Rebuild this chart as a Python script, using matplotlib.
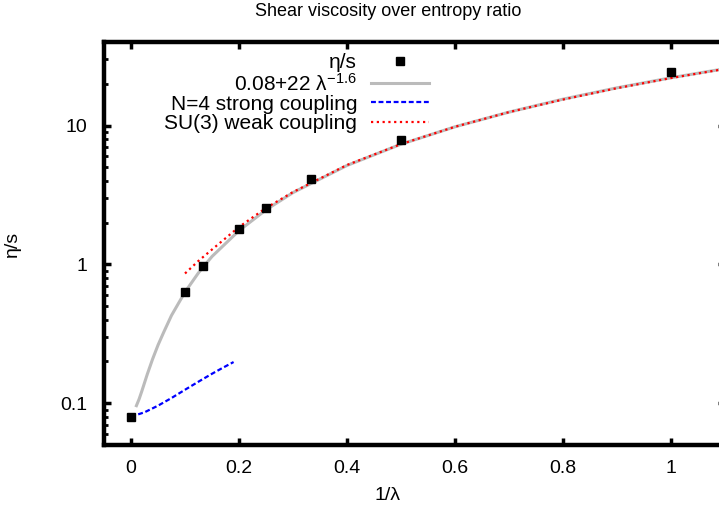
import matplotlib
matplotlib.use("Agg")
import matplotlib.pyplot as plt
from matplotlib.ticker import FixedLocator, LogLocator, NullFormatter, FuncFormatter

plt.rcParams['font.family'] = ['Liberation Sans', 'DejaVu Sans']
plt.rcParams['font.size'] = 14
plt.rcParams['mathtext.fontset'] = 'custom'
plt.rcParams['mathtext.rm'] = 'Liberation Sans'
plt.rcParams['mathtext.default'] = 'regular'

# eta/s data points (x = 1/lambda)
pts_x = [0.0, 0.1, 0.133, 0.2, 0.25, 0.333, 0.5, 1.0]
pts_y = [0.08, 0.63, 0.97, 1.8, 2.55, 4.1, 7.9, 24.5]

# fit curve 0.08 + 22 lambda^-1.6
fit_x = [0.01, 0.015, 0.02, 0.03, 0.04, 0.05, 0.06, 0.075, 0.1, 0.125, 0.15, 0.2,
         0.25, 0.3, 0.4, 0.5, 0.6, 0.7, 0.8, 0.9, 1.0, 1.1]
fit_y = [0.096, 0.107, 0.122, 0.161, 0.208, 0.262, 0.321, 0.429, 0.632, 0.87,
         1.14, 1.75, 2.47, 3.29, 5.16, 7.34, 9.80, 12.5, 15.5, 18.7, 22.1, 25.7]

# N=4 strong coupling
strong_x = [0.0, 0.025, 0.05, 0.075, 0.1, 0.125, 0.15, 0.17, 0.19]
strong_y = [0.080, 0.086, 0.096, 0.109, 0.125, 0.143, 0.163, 0.180, 0.198]

# SU(3) weak coupling
weak_x = [0.1, 0.125, 0.15, 0.2, 0.25, 0.3, 0.4, 0.5, 0.6, 0.7, 0.8, 0.9, 1.0, 1.1]
weak_y = [0.86, 1.06, 1.28, 1.86, 2.55, 3.32, 5.2, 7.35, 9.8, 12.5, 15.4, 18.6, 22.0, 25.6]

x_ticks = [0, 0.2, 0.4, 0.6, 0.8, 1.0]
y_ticks = [0.1, 1, 10]

fig = plt.figure(figsize=(7.19, 5.12), dpi=100)
ax = fig.add_axes([104 / 719, 67 / 512, 621 / 719, 403 / 512])

ax.plot(fit_x, fit_y, color='#bbbbbb', lw=2.2, label='0.08+22 λ$^{-1.6}$', zorder=2)
ax.plot(strong_x, strong_y, color='#0000ff', lw=1.6, ls=(0, (2.2, 1.2)),
        label='N=4 strong coupling', zorder=3)
ax.plot(weak_x, weak_y, color='#ff0000', lw=1.6, ls=(0, (1, 1.6)),
        label='SU(3) weak coupling', zorder=4)
ax.plot(pts_x, pts_y, ls='none', marker='s', ms=5.5, color='black',
        label='η/s', zorder=5)

ax.set_yscale('log')
ax.set_xlim(-0.05, 1.1)
ax.set_ylim(0.05, 40)

ax.xaxis.set_major_locator(FixedLocator(x_ticks))
ax.xaxis.set_major_formatter(FuncFormatter(lambda v, p: '%g' % v))
ax.yaxis.set_major_locator(FixedLocator(y_ticks))
ax.yaxis.set_major_formatter(FuncFormatter(lambda v, p: '%g' % v))
ax.yaxis.set_minor_locator(LogLocator(base=10, subs=range(2, 10)))
ax.yaxis.set_minor_formatter(NullFormatter())

for s in ax.spines.values():
    s.set_linewidth(3.2)
ax.tick_params(which='major', direction='in', length=5, width=2.5,
               top=True, right=True, labelsize=14)
ax.tick_params(axis='x', pad=11)
ax.tick_params(axis='y', pad=12)
ax.tick_params(which='minor', direction='in', length=3, width=2,
               right=True)

handles, labels = ax.get_legend_handles_labels()
order = [3, 0, 1, 2]
leg = ax.legend([handles[i] for i in order], [labels[i] for i in order],
                loc='upper right', bbox_to_anchor=(429 / 719, 1 - 53 / 512),
                bbox_transform=fig.transFigure, frameon=False,
                markerfirst=False, handlelength=2.8, handletextpad=0.65,
                labelspacing=0.02, borderpad=0, borderaxespad=0, fontsize=15)

fig.text(388 / 719, 1 - 12 / 512, 'Shear viscosity over entropy ratio',
         ha='center', va='center', fontsize=13)
fig.text(388 / 719, 1 - 495 / 512, '1/λ', ha='center', va='center', fontsize=14)
fig.text(12 / 719, 1 - 244 / 512, 'η/s', ha='center', va='center',
         rotation=90, fontsize=14)

fig.savefig('out.png', dpi=100)
